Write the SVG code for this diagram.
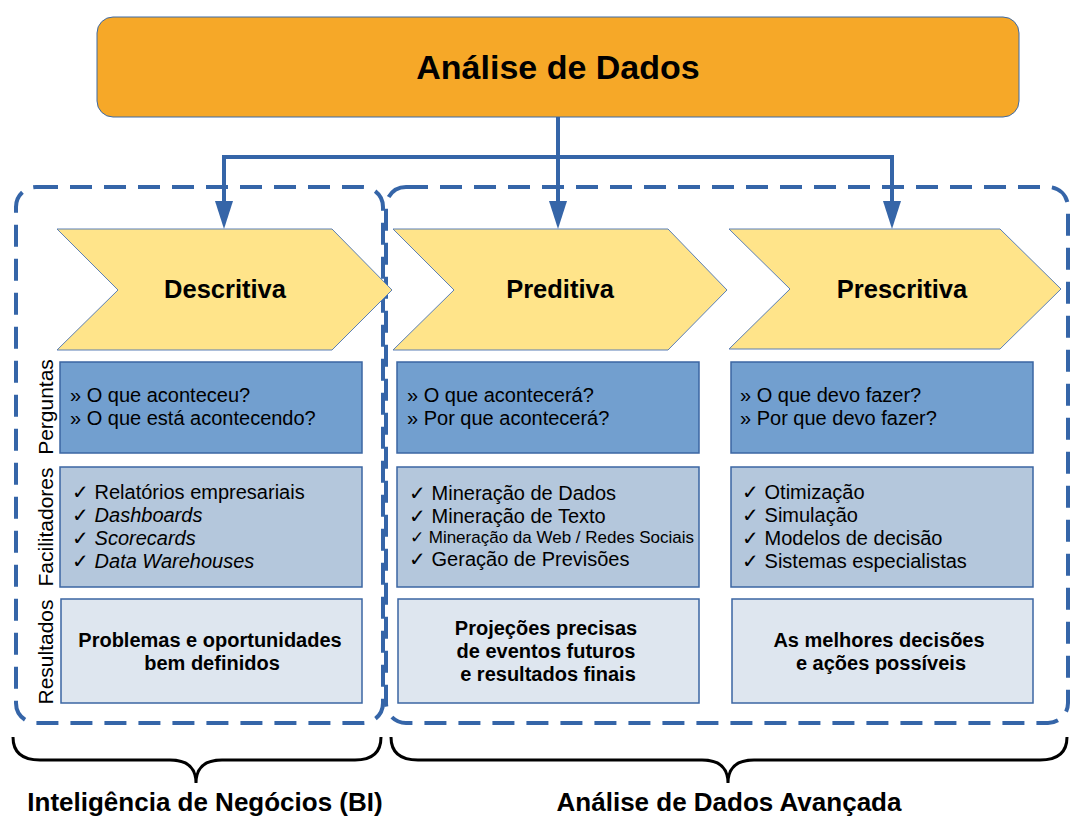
<svg xmlns="http://www.w3.org/2000/svg" width="1086" height="832" viewBox="0 0 1086 832">
<style>
text{font-family:"Liberation Sans",Arial,sans-serif;fill:#000}
.title{font-size:34px;font-weight:bold}
.chev{fill:#FFE48A;stroke:#5b7fb5;stroke-width:1}
.chevt{font-size:25.5px;font-weight:bold}
.q{fill:#729FCF;stroke:#3B66A3;stroke-width:1.5}
.f{fill:#B4C7DC;stroke:#3B66A3;stroke-width:1.5}
.r{fill:#DEE6EF;stroke:#3B66A3;stroke-width:1.5}
.t{font-size:20px}
.ts{font-size:17px}
.rt{font-size:20px;font-weight:bold}
.side{font-size:21px}
.dash{fill:none;stroke:#3565A8;stroke-width:4;stroke-dasharray:22 12}
.conn{fill:none;stroke:#3565A8;stroke-width:4}
.brace{fill:none;stroke:#000;stroke-width:3}
.foot{font-size:26px;font-weight:bold}
</style>
<defs>
<marker id="ah" markerUnits="userSpaceOnUse" markerWidth="28" markerHeight="18" viewBox="0 0 28 18" refX="0" refY="9" orient="auto">
<path d="M0,0 L28,9 L0,18 z" fill="#3565A8"/>
</marker>
</defs>

<g id="dashed-frames">
<rect class="dash" x="16" y="187" width="367" height="536" rx="20"/>
<rect class="dash" x="386" y="187" width="682" height="536" rx="20"/>
</g>

<g id="top">
<rect x="97" y="17" width="922" height="100" rx="16" fill="#F6A828" stroke="#3D6AA6" stroke-width="1"/>
<text class="title" x="558" y="79" text-anchor="middle">Análise de Dados</text>
</g>

<g id="connectors">
<path class="conn" d="M558,157 H224 V201" marker-end="url(#ah)"/>
<path class="conn" d="M558,157 H892 V201" marker-end="url(#ah)"/>
<path class="conn" d="M558,117 V201" marker-end="url(#ah)"/>
</g>

<g id="descritiva">
<polygon class="chev" points="57,229 332,229 392,290 332,350 57,350 118,290"/>
<text class="chevt" x="225" y="298" text-anchor="middle">Descritiva</text>
<rect class="q" x="60" y="362" width="302" height="91"/>
<text class="t" x="70" y="402">» O que aconteceu?</text>
<text class="t" x="70" y="425">» O que está acontecendo?</text>
<rect class="f" x="60" y="467" width="302" height="120"/>
<text class="t" x="72" y="499">✓ Relatórios empresariais</text>
<text class="t" x="72" y="522">✓ <tspan font-style="italic">Dashboards</tspan></text>
<text class="t" x="72" y="545">✓ <tspan font-style="italic">Scorecards</tspan></text>
<text class="t" x="72" y="568">✓ <tspan font-style="italic">Data Warehouses</tspan></text>
<rect class="r" x="61" y="599" width="301" height="104"/>
<text class="rt" x="210" y="647" text-anchor="middle">Problemas e oportunidades</text>
<text class="rt" x="212" y="670" text-anchor="middle">bem definidos</text>
</g>

<g id="preditiva">
<polygon class="chev" points="393,229 668,229 727,290 668,350 393,350 454,290"/>
<text class="chevt" x="560" y="298" text-anchor="middle">Preditiva</text>
<rect class="q" x="397" y="362" width="302" height="91"/>
<text class="t" x="407" y="402">» O que acontecerá?</text>
<text class="t" x="407" y="425">» Por que acontecerá?</text>
<rect class="f" x="397" y="467" width="302" height="120"/>
<text class="t" x="409" y="500">✓ Mineração de Dados</text>
<text class="t" x="409" y="523">✓ Mineração de Texto</text>
<text class="ts" x="410" y="543">✓ Mineração da Web / Redes Sociais</text>
<text class="t" x="409" y="566">✓ Geração de Previsões</text>
<rect class="r" x="398" y="599" width="301" height="104"/>
<text class="rt" x="546" y="635" text-anchor="middle">Projeções precisas</text>
<text class="rt" x="546" y="658" text-anchor="middle">de eventos futuros</text>
<text class="rt" x="548" y="681" text-anchor="middle">e resultados finais</text>
</g>

<g id="prescritiva">
<polygon class="chev" points="729,229 1000,229 1061,289 1000,349 729,349 790,289"/>
<text class="chevt" x="902" y="298" text-anchor="middle">Prescritiva</text>
<rect class="q" x="731" y="362" width="302" height="91"/>
<text class="t" x="740" y="402">» O que devo fazer?</text>
<text class="t" x="740" y="425">» Por que devo fazer?</text>
<rect class="f" x="731" y="467" width="302" height="120"/>
<text class="t" x="742" y="499">✓ Otimização</text>
<text class="t" x="742" y="522">✓ Simulação</text>
<text class="t" x="742" y="545">✓ Modelos de decisão</text>
<text class="t" x="742" y="568">✓ Sistemas especialistas</text>
<rect class="r" x="732" y="599" width="301" height="104"/>
<text class="rt" x="879" y="647" text-anchor="middle">As melhores decisões</text>
<text class="rt" x="881" y="670" text-anchor="middle">e ações possíveis</text>
</g>

<g id="side-labels">
<text class="side" transform="translate(53,407) rotate(-90)" text-anchor="middle">Perguntas</text>
<text class="side" transform="translate(53,527) rotate(-90)" text-anchor="middle">Facilitadores</text>
<text class="side" transform="translate(53,652) rotate(-90)" text-anchor="middle">Resultados</text>
</g>

<g id="braces">
<path class="brace" d="M13,737 Q13,760 40,760 L170,760 Q196,760 196,783 Q196,760 222,760 L355,760 Q381,760 381,737"/>
<path class="brace" d="M391,737 Q391,760 418,760 L702,760 Q728,760 728,783 Q728,760 754,760 L1040,760 Q1067,760 1067,737"/>
</g>

<g id="footer">
<text class="foot" x="205" y="811" text-anchor="middle">Inteligência de Negócios (BI)</text>
<text class="foot" x="729" y="811" text-anchor="middle">Análise de Dados Avançada</text>
</g>
</svg>
